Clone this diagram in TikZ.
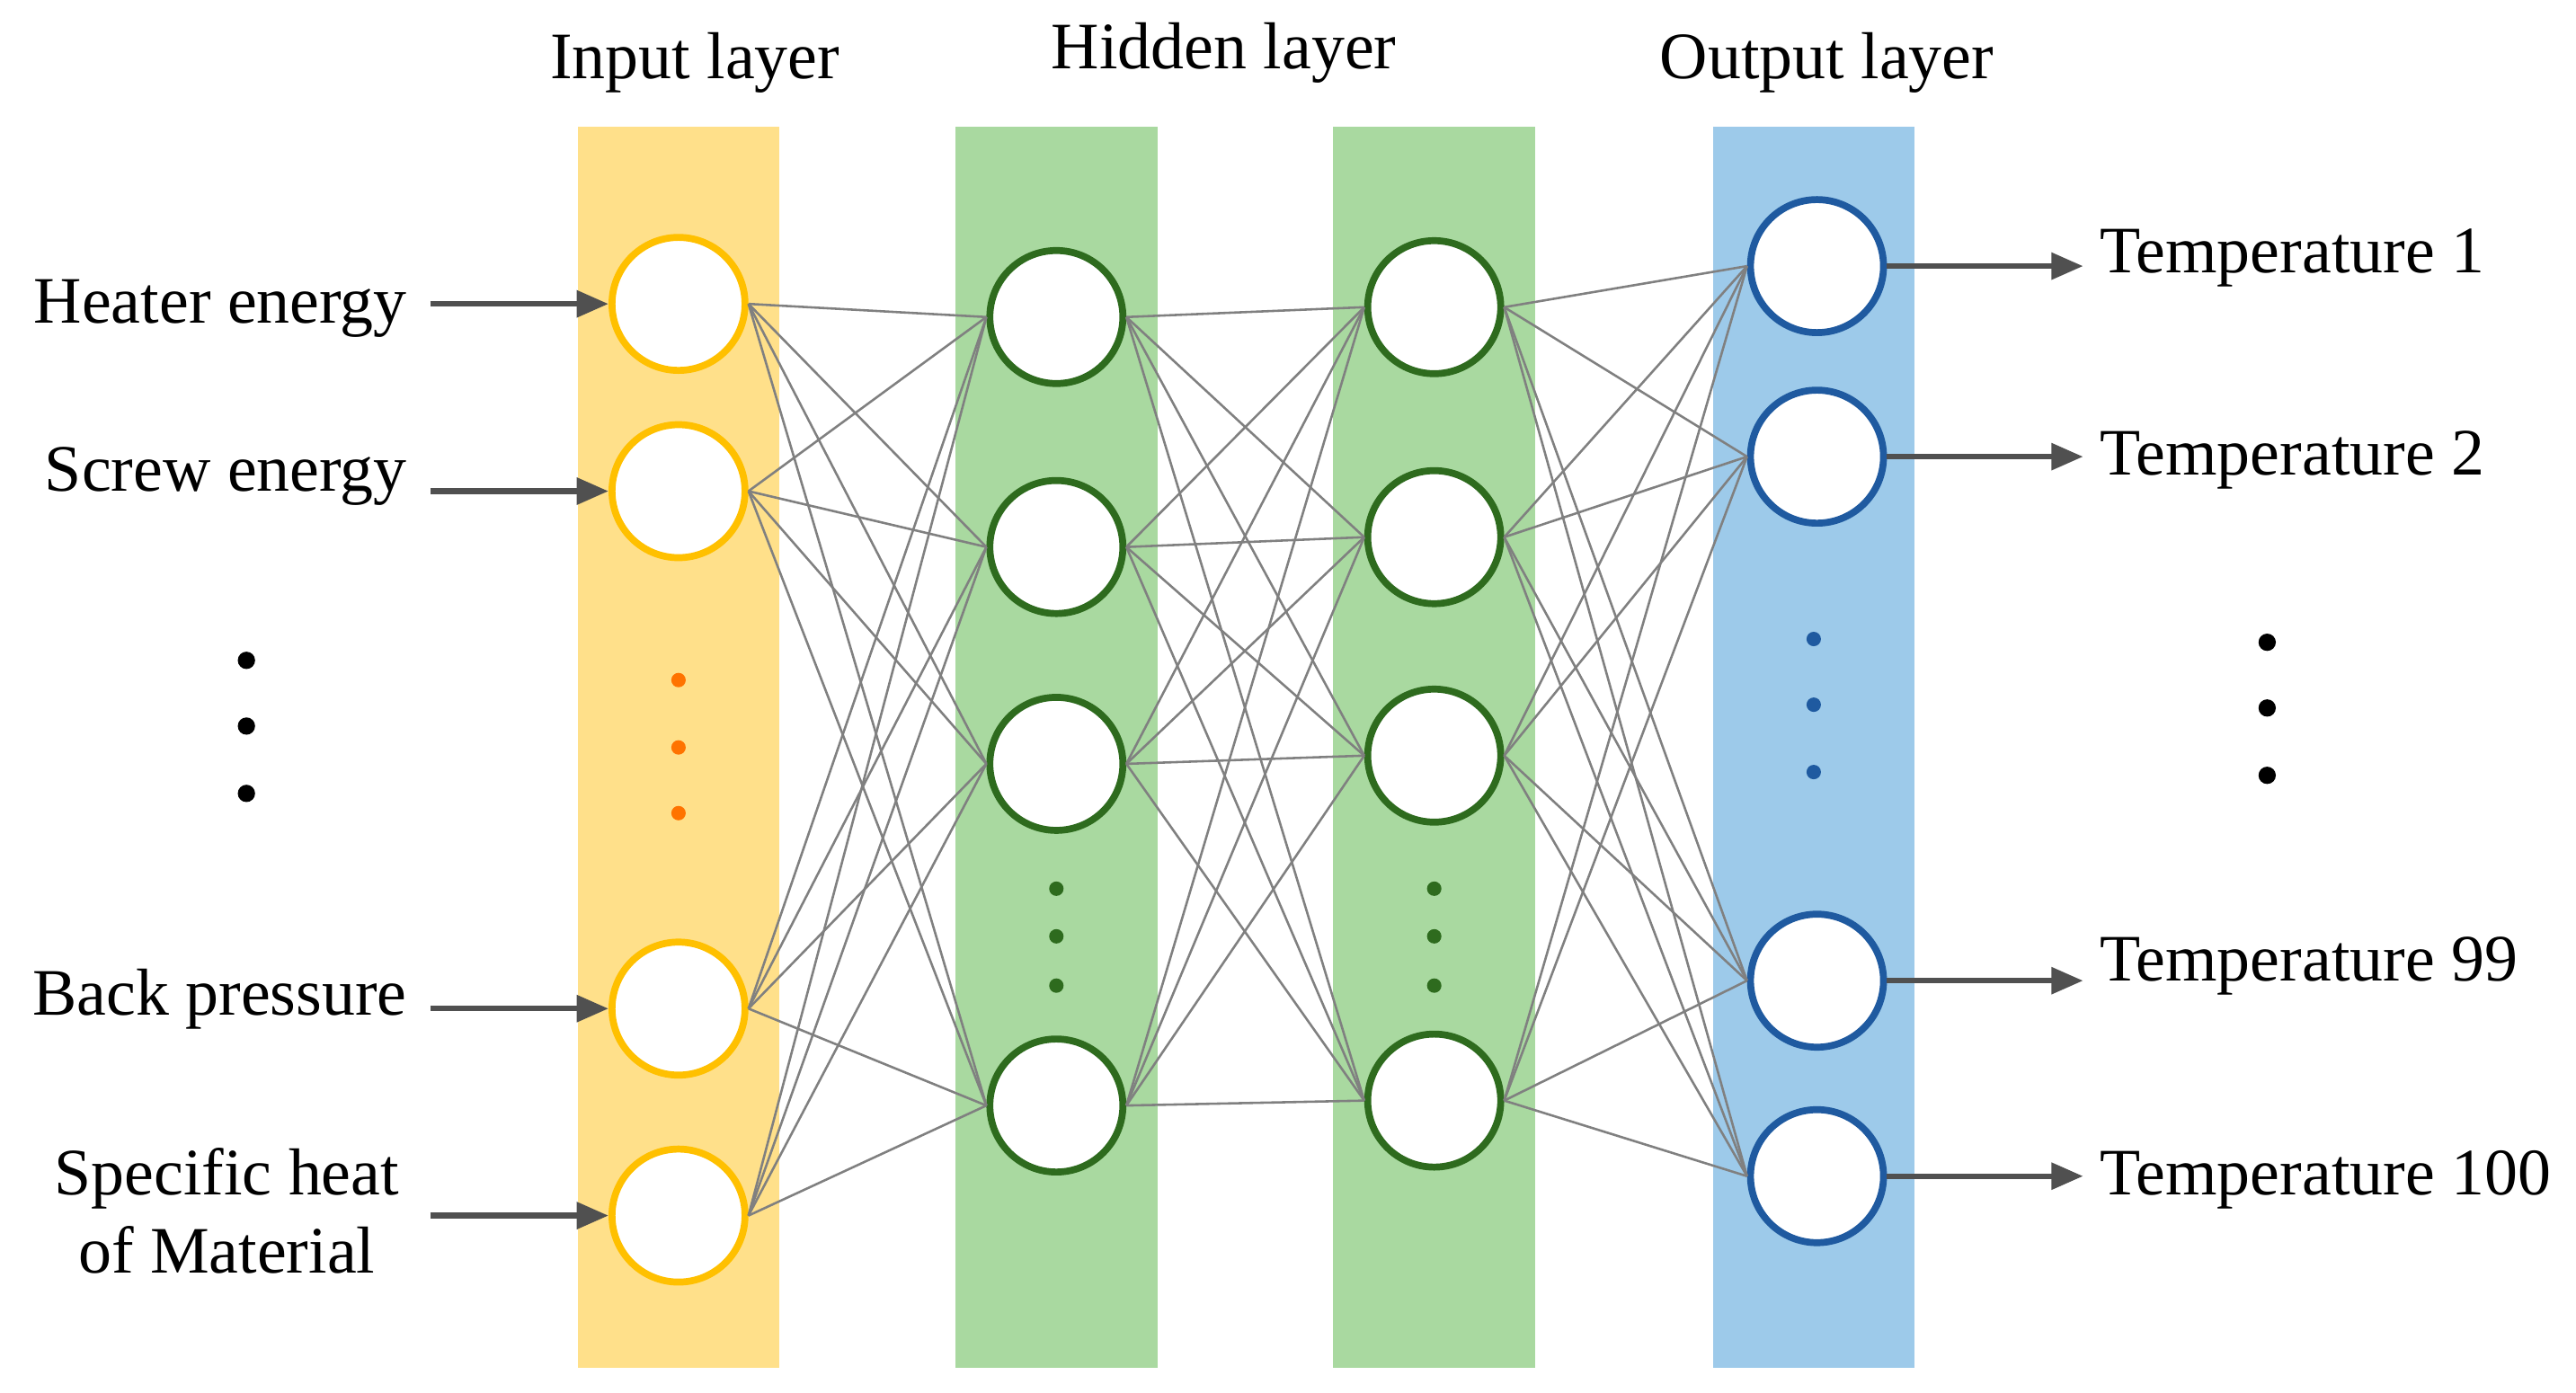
\documentclass[tikz,border=0pt]{standalone}
\usepackage{fontspec}
\setmainfont{Liberation Serif}
\usetikzlibrary{arrows.meta}
\definecolor{yel}{HTML}{FFE08A}
\definecolor{grn}{HTML}{A9D9A0}
\definecolor{blu}{HTML}{9DCAEA}
\definecolor{yedge}{HTML}{FFC000}
\definecolor{gedge}{HTML}{2E6B1E}
\definecolor{bedge}{HTML}{1F5AA0}
\definecolor{arr}{HTML}{505050}
\begin{document}
\begin{tikzpicture}[x=0.02cm,y=-0.02cm,
  neuron/.style={circle,fill=white,line width=2.4pt,minimum size=1.62cm,inner sep=0pt},
  inp/.style={neuron,draw=yedge},
  hid/.style={neuron,draw=gedge},
  outn/.style={neuron,draw=bedge},
  band/.style={inner sep=0pt,minimum width=2.46cm,minimum height=15.12cm},
  lbl/.style={font=\fontsize{23}{27}\selectfont,inner sep=0pt},
  edge/.style={draw=gray,line width=0.8pt},
  io/.style={draw=arr,line width=2pt,-{Triangle[length=11pt,width=9pt]}},
  dot/.style={circle,inner sep=0pt,minimum size=5pt}]
\useasboundingbox (0,0) rectangle (1568,848);
\node[band,fill=yel] (b1) at (413,455) {};
\node[band,fill=grn] (b2) at (643,455) {};
\node[band,fill=grn] (b3) at (873,455) {};
\node[band,fill=blu] (b4) at (1104,455) {};
\node[lbl] (t1) at (423,38) {Input layer};
\node[lbl] (t2) at (745,32) {Hidden layer};
\node[lbl] (t3) at (1112,38) {Output layer};
\foreach \i/\y in {1/185,2/299,3/614,4/740} \node[inp] (i\i) at (413,\y) {};
\foreach \i/\y in {1/193,2/333,3/465,4/673} \node[hid] (h\i) at (643,\y) {};
\foreach \i/\y in {1/187,2/327,3/460,4/670} \node[hid] (g\i) at (873,\y) {};
\foreach \i/\y in {1/162,2/278,3/597,4/716} \node[outn] (o\i) at (1106,\y) {};
\foreach \a in {1,...,4}{\foreach \b in {1,...,4}{
  \draw[edge] (i\a.east) -- (h\b.west);
  \draw[edge] (h\a.east) -- (g\b.west);
  \draw[edge] (g\a.east) -- (o\b.west);}}
\foreach \k/\y in {1/414,2/455,3/495} \node[dot,fill=orange!90!red] (od\k) at (413,\y) {};
\foreach \k/\y in {1/541,2/570,3/600} {\node[dot,fill=gedge] (gd\k) at (643,\y) {};\node[dot,fill=gedge] (gd2\k) at (873,\y) {};}
\foreach \k/\y in {1/389,2/429,3/470} \node[dot,fill=bedge] (bd\k) at (1104,\y) {};
\foreach \k/\y in {1/402,2/442,3/483} \node[dot,fill=black,minimum size=6pt] (ld\k) at (150,\y) {};
\foreach \k/\y in {1/391,2/431,3/472} \node[dot,fill=black,minimum size=6pt] (rd\k) at (1380,\y) {};
\node[lbl,anchor=east] (l1) at (248,188) {Heater energy};
\node[lbl,anchor=east] (l2) at (248,290) {Screw energy};
\node[lbl,anchor=east] (l3) at (248,608) {Back pressure};
\node[lbl,align=center] (l4) at (138,737) {Specific heat\\of Material};
\foreach \k/\y in {1/185,2/299,3/614,4/740}{\coordinate (s\k) at (262,\y); \draw[io] (s\k) -- (i\k);}
\foreach \k/\y in {1/162,2/278,3/597,4/716}{\coordinate (e\k) at (1268,\y);}
\draw[io] (o1.east) -- (e1); \draw[io] (o2.east) -- (e2); \draw[io] (o3.east) -- (e3); \draw[io] (o4.east) -- (e4);
\node[lbl,anchor=west] (r1) at (1278,157) {Temperature 1};
\node[lbl,anchor=west] (r2) at (1278,280) {Temperature 2};
\node[lbl,anchor=west] (r3) at (1278,588) {Temperature 99};
\node[lbl,anchor=west] (r4) at (1278,718) {Temperature 100};
\end{tikzpicture}
\end{document}
